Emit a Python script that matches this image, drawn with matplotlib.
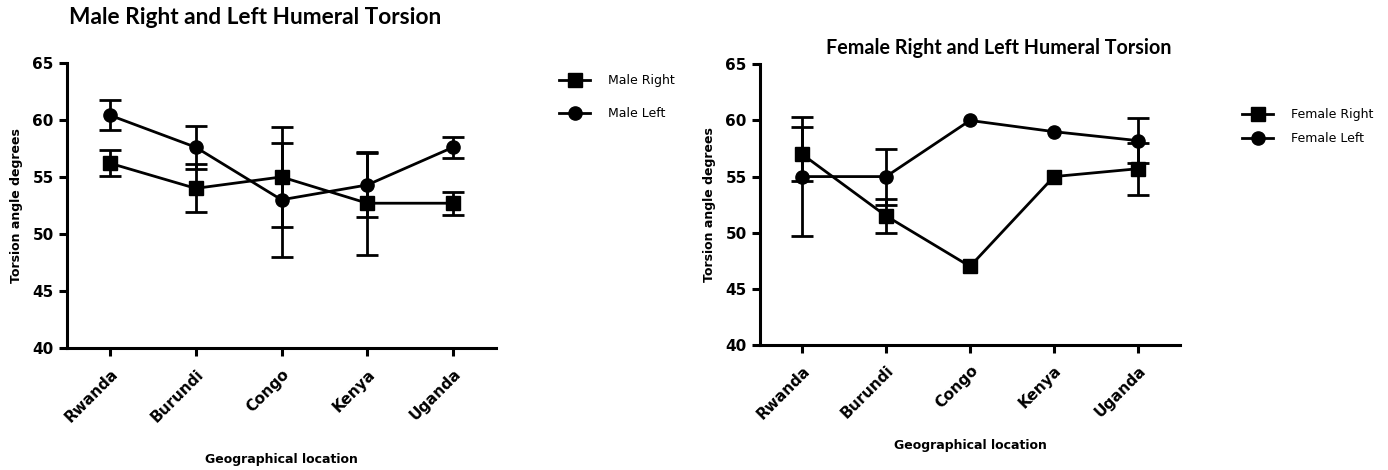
import matplotlib
matplotlib.use("Agg")
import matplotlib.pyplot as plt
import numpy as np

# Data
locations = ["Rwanda", "Burundi", "Congo", "Kenya", "Uganda"]

male_right = [56.2, 54.0, 55.0, 52.7, 52.7]
male_right_err = [1.15, 2.1, 4.35, 4.5, 1.0]
male_left = [60.4, 57.6, 53.0, 54.3, 57.6]
male_left_err = [1.3, 1.9, 5.0, 2.8, 0.9]

female_right = [57.0, 51.5, 47.0, 55.0, 55.7]
female_right_err = [2.4, 1.5, 0.0, 0.0, 2.3]
female_left = [55.0, 55.0, 60.0, 59.0, 58.2]
female_left_err = [5.3, 2.5, 0.0, 0.0, 2.0]

y_ticks = [40, 45, 50, 55, 60, 65]

plt.rcParams["font.family"] = ["DejaVu Sans"]
TITLE_FONT = "Lato"
W, H = 1388, 470


def draw_panel(ax, right, right_err, left, left_err, labels, xlabel_pad):
    x = np.arange(len(locations))
    for vals, errs in [(right, right_err), (left, left_err)]:
        vals = np.array(vals)
        errs = np.array(errs)
        keep = errs > 0
        ax.errorbar(x[keep], vals[keep], yerr=errs[keep], fmt="none", ecolor="black",
                    elinewidth=2, capsize=8, capthick=2, zorder=2)
    h1, = ax.plot(x, right, "-s", color="black", lw=2, markersize=9.5,
                  label=labels[0], zorder=3)
    h2, = ax.plot(x, left, "-o", color="black", lw=2, markersize=9.5,
                  label=labels[1], zorder=3)

    ax.set_xlim(-0.5, 4.5)
    ax.set_ylim(40, 65)
    ax.set_yticks(y_ticks)
    ax.set_xticks(x)
    ax.set_xticklabels(locations, rotation=45, ha="right", rotation_mode="anchor",
                       fontsize=11, fontweight="bold")
    for lab in ax.get_yticklabels():
        lab.set_fontweight("bold")
        lab.set_fontsize(11)
    for spine in ["top", "right"]:
        ax.spines[spine].set_visible(False)
    for spine in ["left", "bottom"]:
        ax.spines[spine].set_linewidth(2.2)
    ax.tick_params(axis="both", width=2.2, length=6, direction="out")
    ax.tick_params(axis="x", pad=7)
    ax.set_xlabel("Geographical location", fontsize=9, fontweight="bold", labelpad=xlabel_pad)
    ax.set_ylabel("Torsion angle degrees", fontsize=9, fontweight="bold", labelpad=7)
    return h1, h2


fig = plt.figure(figsize=(W / 100, H / 100), dpi=100)

ax1 = fig.add_axes([67 / W, 1 - 348.3 / H, 429 / W, 285.6 / H])
ax2 = fig.add_axes([760 / W, 1 - 345 / H, 420 / W, 280.7 / H])

handles1 = draw_panel(ax1, male_right, male_right_err, male_left, male_left_err,
                      ["Male Right", "Male Left"], 20)
handles2 = draw_panel(ax2, female_right, female_right_err, female_left, female_left_err,
                      ["Female Right", "Female Left"], 12)

fig.legend(handles=handles1, loc="upper left", bbox_to_anchor=(559 / W, 1 - 74 / H),
           frameon=False, fontsize=9, borderpad=0, borderaxespad=0,
           handlelength=2.5, handletextpad=1.4, labelspacing=1.6)
fig.legend(handles=handles2, loc="upper left", bbox_to_anchor=(1242 / W, 1 - 108 / H),
           frameon=False, fontsize=9, borderpad=0, borderaxespad=0,
           handlelength=2.5, handletextpad=1.4, labelspacing=0.9)

fig.text(255 / W, 1 - 18 / H, "Male Right and Left Humeral Torsion",
         ha="center", va="center", fontsize=16.3, fontweight="bold", family=TITLE_FONT)
fig.text(999 / W, 1 - 48 / H, "Female Right and Left Humeral Torsion",
         ha="center", va="center", fontsize=14.2, fontweight="bold", family=TITLE_FONT)

fig.savefig("out.png", dpi=100, facecolor="white")
